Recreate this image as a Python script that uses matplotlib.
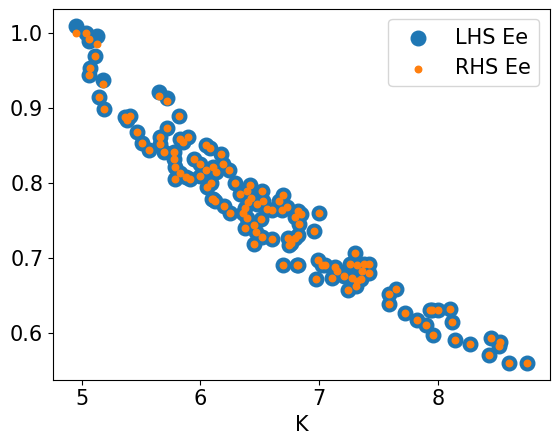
import matplotlib
matplotlib.use('Agg')
import matplotlib.pyplot as plt

# K values and Ee values
k = [4.95, 5.04, 5.13, 5.06, 5.11, 5.07, 5.06, 5.18, 5.15, 5.19,
     5.37, 5.41, 5.38, 5.47, 5.51, 5.57, 5.66, 5.66, 5.69, 5.65,
     5.72, 5.72, 5.82, 5.83, 5.90, 5.78, 5.78, 5.79, 5.83, 5.79,
     5.88, 5.91, 5.95, 6.00, 6.05, 6.08, 6.00, 6.05, 6.06, 6.09,
     6.10, 6.11, 6.11, 6.17, 6.19, 6.13, 6.24, 6.12, 6.20, 6.29,
     6.42, 6.39, 6.33, 6.38, 6.39, 6.38, 6.45, 6.47, 6.45, 6.52,
     6.52, 6.53, 6.48, 6.51, 6.56, 6.60, 6.60, 6.66, 6.70, 6.69,
     6.70, 6.81, 6.82, 6.74, 6.73, 6.82, 6.80, 6.85, 6.83, 6.82,
     6.80, 6.76, 6.75, 6.96, 7.00, 6.99, 7.02, 6.97, 7.05, 7.13,
     7.15, 7.11, 7.21, 7.24, 7.28, 7.26, 7.30, 7.32, 7.32, 7.36,
     7.38, 7.42, 7.42, 7.31, 7.35, 7.59, 7.59, 7.65, 7.72, 7.82,
     7.90, 7.93, 7.95, 7.96, 8.00, 8.10, 8.12, 8.14, 8.27, 8.43,
     8.45, 8.52, 8.51, 8.60, 8.75, 6.40, 6.36, 6.43, 6.25, 5.85]
lhs = [1.010, 1.000, 0.996, 0.990, 0.970, 0.953, 0.944, 0.938, 0.915, 0.899,
       0.888, 0.890, 0.884, 0.868, 0.853, 0.844, 0.861, 0.852, 0.842, 0.921,
       0.914, 0.873, 0.890, 0.859, 0.861, 0.842, 0.832, 0.822, 0.813, 0.805,
       0.808, 0.806, 0.832, 0.825, 0.851, 0.847, 0.809, 0.817, 0.795, 0.800,
       0.779, 0.778, 0.822, 0.839, 0.825, 0.815, 0.817, 0.776, 0.769, 0.800,
       0.797, 0.790, 0.785, 0.766, 0.753, 0.740, 0.744, 0.735, 0.718, 0.728,
       0.789, 0.776, 0.772, 0.752, 0.765, 0.764, 0.725, 0.776, 0.784, 0.764,
       0.690, 0.690, 0.690, 0.726, 0.768, 0.763, 0.755, 0.758, 0.745, 0.730,
       0.726, 0.720, 0.717, 0.736, 0.760, 0.697, 0.690, 0.672, 0.690, 0.688,
       0.683, 0.673, 0.676, 0.657, 0.673, 0.692, 0.707, 0.690, 0.669, 0.682,
       0.692, 0.692, 0.680, 0.663, 0.672, 0.652, 0.638, 0.658, 0.626, 0.617,
       0.610, 0.630, 0.630, 0.597, 0.630, 0.632, 0.615, 0.590, 0.585, 0.570,
       0.593, 0.588, 0.582, 0.560, 0.560, 0.775, 0.760, 0.780, 0.760, 0.855]
rhs = list(lhs)
rhs[0] = 1.000
rhs[2] = 0.985
rhs[3] = 0.992
rhs[19] = 0.916
rhs[20] = 0.910
rhs[7] = 0.932

fig, ax = plt.subplots(figsize=(5.58, 4.44), dpi=100)
ax.scatter(k, lhs, s=110, color='#1f77b4', label='LHS Ee')
ax.scatter(k, rhs, s=22, color='#ff7f0e', label='RHS Ee')
ax.set_xlabel('K', fontsize=15)
ax.set_xticks([5, 6, 7, 8])
ax.set_yticks([0.6, 0.7, 0.8, 0.9, 1.0])
ax.tick_params(labelsize=15)
ax.legend(fontsize=15, markerscale=1.0)
plt.subplots_adjust(left=0.095, right=0.985, top=0.98, bottom=0.145)
fig.savefig('out.png')
